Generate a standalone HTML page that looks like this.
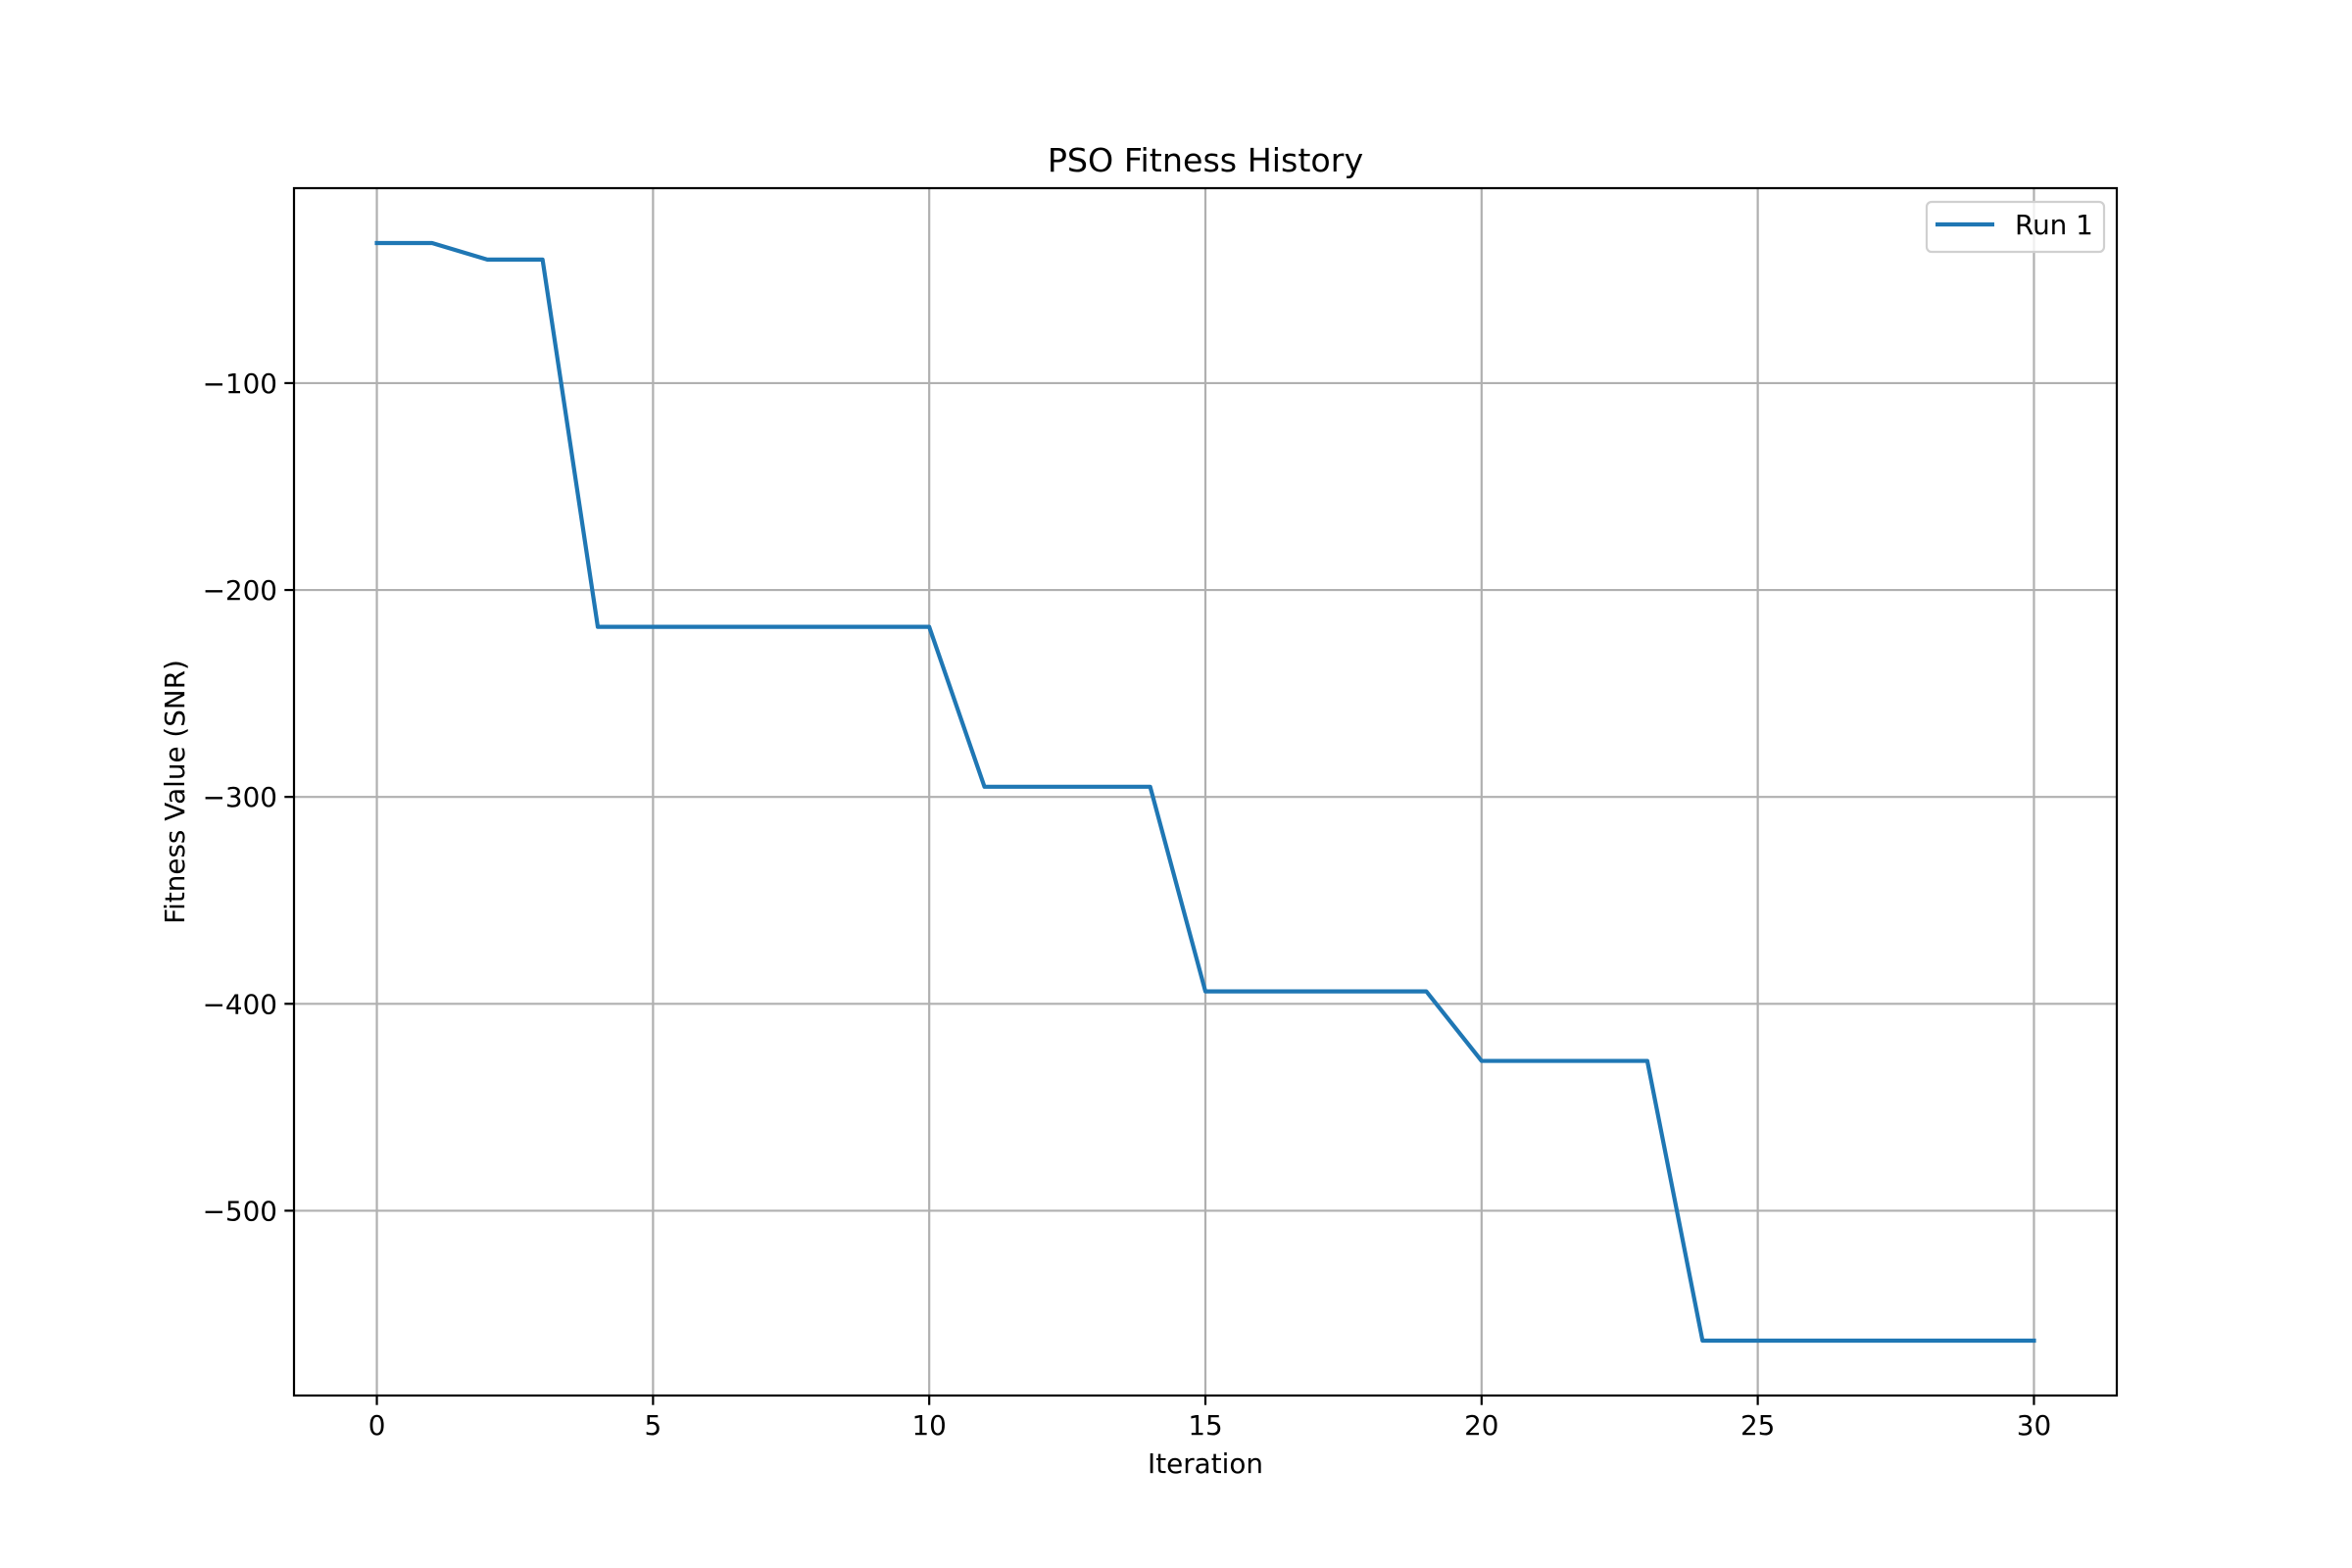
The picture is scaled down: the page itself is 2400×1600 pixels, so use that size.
<!DOCTYPE html>
<html><head><meta charset="utf-8"><style>
html,body{margin:0;padding:0;background:#fff;}
svg{display:block;font-family:"DejaVu Sans","Liberation Sans",sans-serif;}
</style></head><body>
<svg id="chart" width="2400" height="1600" viewBox="0 0 2400 1600">
<rect x="0" y="0" width="2400" height="1600" fill="#fff"/>
<g id="grid"></g>
<g id="series"></g>
<rect x="300" y="192" width="1860" height="1232" fill="none" stroke="#000" stroke-width="2.2"/>
<g id="ticks"></g>
<text x="1230" y="175" font-size="33.3" text-anchor="middle">PSO Fitness History</text>
<text x="1230" y="1503" font-size="27.8" text-anchor="middle">Iteration</text>
<text x="0" y="0" font-size="27.8" text-anchor="middle" transform="translate(188,808) rotate(-90)">Fitness Value (SNR)</text>
<g>
<rect x="1966" y="206" width="181" height="51" rx="5" fill="#fff" fill-opacity="0.8" stroke="#d0d0d0" stroke-width="2.2"/>
<line x1="1975" y1="229" x2="2035" y2="229" stroke="#1f77b4" stroke-width="4.2"/>
<text x="2056" y="239" font-size="27.8">Run 1</text>
</g>
</svg>
<script>
const iterations = [0,1,2,3,4,5,6,7,8,9,10,11,12,13,14,15,16,17,18,19,20,21,22,23,24,25,26,27,28,29,30];
const run1 = [-32.3,-32.3,-40.3,-40.3,-217.8,-217.8,-217.8,-217.8,-217.8,-217.8,-217.8,-295.1,-295.1,-295.1,-295.1,-394,-394,-394,-394,-394,-427.6,-427.6,-427.6,-427.6,-562.8,-562.8,-562.8,-562.8,-562.8,-562.8,-562.8];
const xTicks = [0,5,10,15,20,25,30];
const yTicks = [-100,-200,-300,-400,-500];
const yTickLabels = ["\u2212100","\u2212200","\u2212300","\u2212400","\u2212500"];

const L=300,R=2160,T=192,B=1424;
const xmin=Math.min(...iterations), xmax=Math.max(...iterations);
const xpad=(xmax-xmin)*0.05;
const ymin=Math.min(...run1), ymax=Math.max(...run1);
const ypad=(ymax-ymin)*0.05;
function xs(v){return L+(v-(xmin-xpad))/((xmax+xpad)-(xmin-xpad))*(R-L);}
function ys(v){return B-(v-(ymin-ypad))/((ymax+ypad)-(ymin-ypad))*(B-T);}
const NS="http://www.w3.org/2000/svg";
const grid=document.getElementById('grid'), ticks=document.getElementById('ticks'), series=document.getElementById('series');
function mk(tag,attrs,parent){const e=document.createElementNS(NS,tag);for(const k in attrs)e.setAttribute(k,attrs[k]);parent.appendChild(e);return e;}
xTicks.forEach(function(v){
  const x=xs(v);
  const g=mk('line',{x1:x,y1:T,x2:x,y2:B,stroke:'#b0b0b0','stroke-width':2.2},grid);
  
  
  const t=mk('line',{x1:x,y1:B,x2:x,y2:B+9.7,stroke:'#000','stroke-width':2.2},ticks);
  
  
  const l=mk('text',{x:x,y:B+40,'font-size':27.8,'text-anchor':'middle'},ticks);
  l.textContent=String(v);
  
  
});
yTicks.forEach(function(v,i){
  const y=ys(v);
  const g=mk('line',{x1:L,y1:y,x2:R,y2:y,stroke:'#b0b0b0','stroke-width':2.2},grid);
  
  
  const t=mk('line',{x1:L-9.7,y1:y,x2:L,y2:y,stroke:'#000','stroke-width':2.2},ticks);
  
  
  const l=mk('text',{x:L-17,y:y+10,'font-size':27.8,'text-anchor':'end'},ticks);
  l.textContent=yTickLabels[i];
  
  
});
const pts=iterations.map(function(v,i){return xs(v).toFixed(2)+','+ys(run1[i]).toFixed(2);}).join(' ');
const line=mk('polyline',{points:pts,fill:'none',stroke:'#1f77b4','stroke-width':4.2,'stroke-linejoin':'round','stroke-linecap':'square'},series);


</script>
</body></html>
